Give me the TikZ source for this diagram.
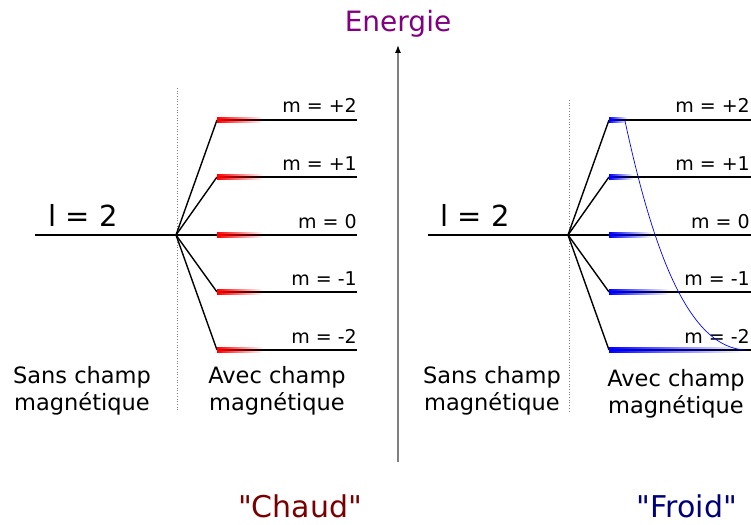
\documentclass[tikz,border=0pt]{standalone}
\usepackage{fontspec}
\setmainfont{DejaVu Sans}
\newfontfamily\quotefont{DejaVu Sans}[Ligatures=TeXOff]
\usetikzlibrary{arrows.meta, fadings}
\definecolor{HotRed}{RGB}{120, 0, 0}
\definecolor{ColdBlue}{RGB}{0, 0, 120}
\definecolor{EnergyPurple}{RGB}{128, 0, 128}

\tikzfading[name=levelfade, left color=transparent!0, middle color=transparent!10, right color=transparent!100]

\tikzset{
  level/.style={line width=2.2pt},
  split/.style={line width=1.4pt},
  mlabel/.style={font=\fontsize{19}{19}\selectfont, anchor=base east, inner sep=0pt},
  lval/.style={font=\fontsize{29}{29}\selectfont, anchor=base, inner sep=0pt},
  caption/.style={font=\fontsize{22.5}{27}\selectfont, align=center, inner sep=0pt},
  title/.style={font=\quotefont\fontsize{30}{30}\selectfont, anchor=base, inner sep=0pt},
  guide/.style={gray, dotted, line width=0.7pt}
}

\begin{document}
\begin{tikzpicture}[x=1pt, y=-1pt]
    \useasboundingbox (0,0) rectangle (751,524);

    % Energy axis
    \coordinate (eBot) at (398,462);
    \coordinate (eTop) at (398,45);
    \draw[gray, line width=1.2pt, -{Latex[black, length=8pt, width=6pt]}] (eBot) -- (eTop);
    \node[EnergyPurple, font=\fontsize{28}{28}\selectfont] (energie) at (398,24) {Energie};

    % "Chaud" side
    \coordinate (hotL) at (35,235);
    \coordinate (hotSplit) at (176,235);
    \draw[level] (hotL) -- (hotSplit);
    \node[lval] (hotl) at (83,226) {l = 2};
    \draw[guide] (177,88) -- (177,410);
    \foreach \i/\y/\m in {1/120/+2, 2/177/+1, 3/235/0, 4/292/-1, 5/350/-2} {
      \coordinate (hotA\i) at (217,\y);
      \coordinate (hotB\i) at (357,\y);
      \draw[split] (hotSplit) -- (hotA\i);
      \draw[level] (hotA\i) -- (hotB\i);
      \fill[red, path fading=levelfade] ([yshift=-3.2pt]hotA\i) rectangle ([xshift=46pt, yshift=3.2pt]hotA\i);
      \node[mlabel] (hotM\i) at ([yshift=7pt]hotB\i) {m = \m};
    }
    \node[caption] (hotSans) at (82,391) {Sans champ\\magnétique};
    \node[caption] (hotAvec) at (277,391) {Avec champ\\magnétique};
    \node[HotRed, title] (chaud) at (300,517) {"Chaud"};

    % "Froid" side
    \coordinate (coldL) at (428,235);
    \coordinate (coldSplit) at (568,235);
    \draw[level] (coldL) -- (coldSplit);
    \node[lval] (coldl) at (475,226) {l = 2};
    \draw[guide] (569,100) -- (569,412);
    \foreach \i/\y/\m/\w in {1/120/+2/18, 2/177/+1/24, 3/235/0/43, 4/292/-1/61, 5/350/-2/134} {
      \coordinate (coldA\i) at (609,\y);
      \coordinate (coldB\i) at (751,\y);
      \draw[split] (coldSplit) -- (coldA\i);
      \draw[level] (coldA\i) -- (coldB\i);
      \fill[blue, path fading=levelfade] ([yshift=-3.2pt]coldA\i) rectangle ([xshift=\w pt, yshift=3.2pt]coldA\i);
      \node[mlabel] (coldM\i) at ([xshift=-1pt, yshift=7pt]coldB\i) {m = \m};
    }
    % Population curve
    \draw[blue, line width=0.7pt] (625,121) .. controls (656,265) and (692,347) .. (745,350);
    \node[caption] (coldSans) at (492,391) {Sans champ\\magnétique};
    \node[caption] (coldAvec) at (676,394) {Avec champ\\magnétique};
    \node[ColdBlue, title] (froid) at (687,517) {"Froid"};
  \end{tikzpicture}
\end{document}
